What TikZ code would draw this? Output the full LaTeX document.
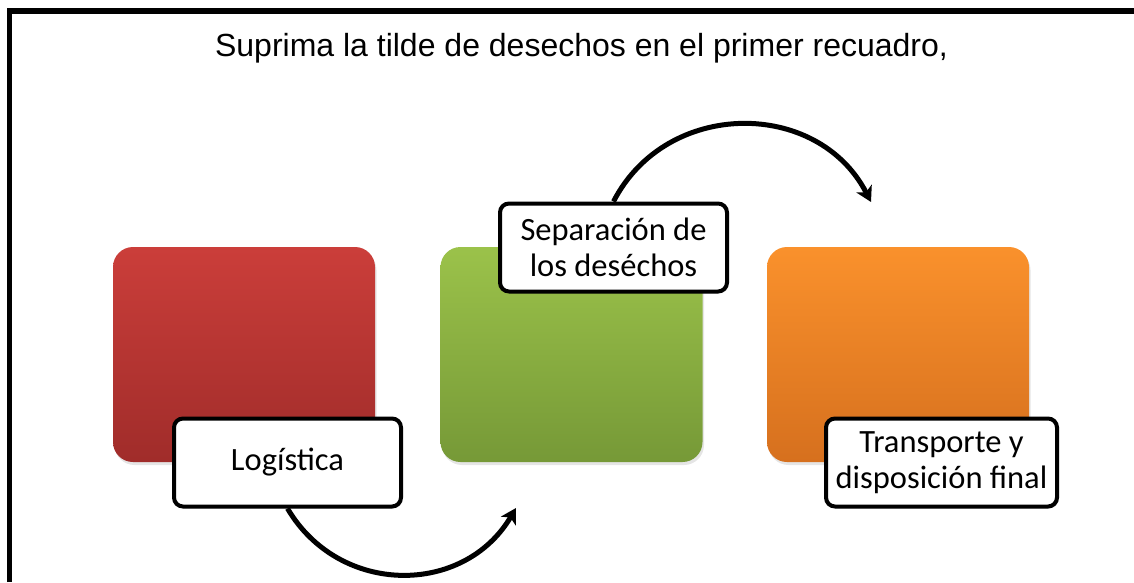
\documentclass[tikz,border=0pt]{standalone}
\usepackage{fontspec}
\setmainfont{Liberation Sans}
\newfontfamily\tagfont{Carlito}
\usetikzlibrary{arrows.meta,shadows}

\definecolor{Credtop}{HTML}{CB3E3A}
\definecolor{Credbot}{HTML}{A02C2A}
\definecolor{Cgreentop}{HTML}{9BC24A}
\definecolor{Cgreenbot}{HTML}{769937}
\definecolor{Corangetop}{HTML}{FA912C}
\definecolor{Corangebot}{HTML}{D6701E}

\begin{document}
\begin{tikzpicture}[x=1pt,y=-1pt,
		tile/.style={rounded corners=20pt,minimum width=262pt,minimum height=215pt,inner sep=0pt,
			drop shadow={shadow xshift=1.5pt,shadow yshift=-3pt,opacity=.2}},
		tag/.style={draw=black,line width=4pt,fill=white,rounded corners=9pt,align=center,
			minimum width=227pt,minimum height=88pt,inner sep=0pt,
			font=\tagfont\fontsize{32.5}{36}\selectfont,
			drop shadow={shadow xshift=1.5pt,shadow yshift=-2pt,opacity=.15}},
		flow/.style={line width=5pt,-{Stealth[length=15pt,width=17pt,inset=4pt]}}]
		\useasboundingbox (0,0) rectangle (1134,582);
		\fill[white] (0,0) rectangle (1134,582);
		\draw[line width=5.5pt] (9.7,582) -- (9.7,11) -- (1134,11);
		\node[anchor=base,inner sep=0pt,font=\fontsize{32}{38}\selectfont] (title) at (581.5,56)
		{Suprima la tilde de desechos en el primer recuadro,};

		\node[tile,top color=Credtop,bottom color=Credbot] (red) at (244,354.5) {};
		\node[tile,top color=Cgreentop,bottom color=Cgreenbot] (green) at (571.5,354.5) {};
		\node[tile,top color=Corangetop,bottom color=Corangebot] (orange) at (898,354.5) {};

		\node[tag] (logi) at (287.5,462.5) {Logística};
		\node[tag] (sep) at (613.5,247.5) {Separación de\\los deséchos};
		\node[tag,minimum width=231pt] (trans) at (941.5,462.5) {Transporte y\\disposición final};

		\coordinate (tipA) at (516,508);
		\coordinate (tipB) at (871,202);
		\draw[flow] (logi.south) .. controls +(52,88) and +(-52,88) .. (tipA);
		\draw[flow] (sep.north) .. controls +(53,-103) and +(-53,-103) .. (tipB);
	\end{tikzpicture}
\end{document}
